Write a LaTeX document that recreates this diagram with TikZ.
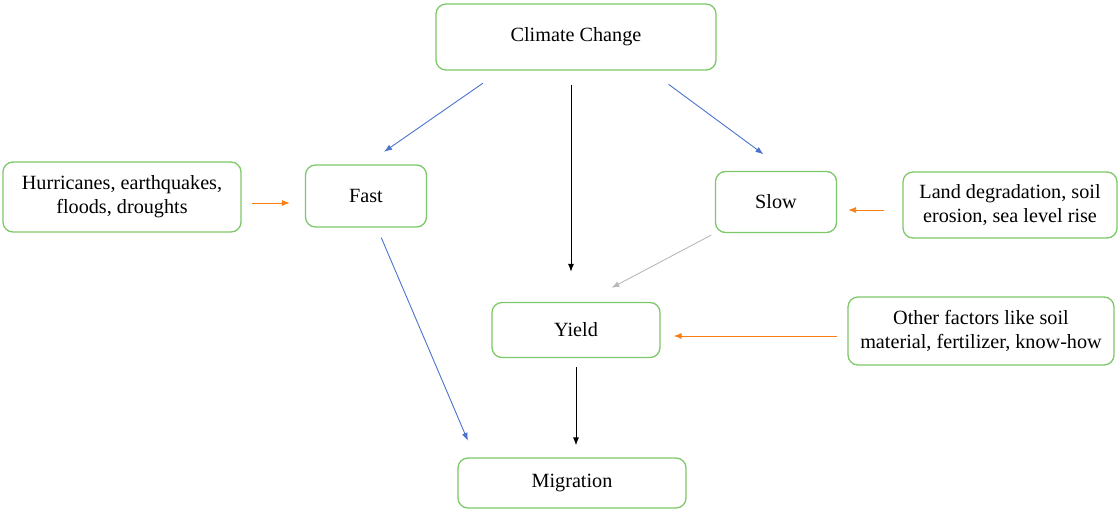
\documentclass[tikz,border=0pt]{standalone}
\usepackage{fontspec}
\setmainfont{Liberation Serif}
\usetikzlibrary{arrows.meta}

\definecolor{boxgreen}{RGB}{125,200,105}
\definecolor{arrowblue}{RGB}{75,115,205}
\definecolor{arroworange}{RGB}{250,125,20}
\definecolor{arrowgray}{RGB}{185,185,185}

\tikzset{
  box/.style={draw=boxgreen, line width=1.3pt, rounded corners=10pt, align=center, inner sep=0pt,
              font=\fontsize{20.2}{24}\selectfont},
  link/.style={-{Latex[length=8pt,width=6pt]}, line width=0.9pt},
}

\begin{document}
\begin{tikzpicture}[x=1pt, y=-1pt]
    \useasboundingbox (0,0) rectangle (1119,509);

    % boxes
    \node[box, minimum width=280pt, minimum height=66pt] (cc) at (576,37) {Climate Change};
    \node[box, minimum width=238pt, minimum height=70pt] (hur) at (122,197) {Hurricanes, earthquakes,\\floods, droughts};
    \node[box, minimum width=121pt, minimum height=62pt] (fast) at (366,196) {Fast};
    \node[box, minimum width=121pt, minimum height=61pt] (slow) at (776,202) {Slow};
    \node[box, minimum width=214pt, minimum height=66pt] (land) at (1010,205) {Land degradation, soil\\erosion, sea level rise};
    \node[box, minimum width=168pt, minimum height=55pt] (yield) at (576,330) {Yield};
    \node[box, minimum width=266pt, minimum height=68pt] (other) at (981,331) {Other factors like soil\\material, fertilizer, know-how};
    \node[box, minimum width=228pt, minimum height=50pt] (mig) at (572,483) {Migration};

    % arrows
    \draw[link, arrowblue, shorten <=22pt, shorten >=22pt] ([xshift=-75pt]cc.south) -- (fast.north);
    \draw[link, arrowblue, shorten <=23pt, shorten >=28pt] ([xshift=74pt]cc.south) -- ([xshift=10pt]slow.north);
    \draw[link, black, shorten <=14pt, shorten >=30pt] ([xshift=-5pt]cc.south) -- ([xshift=-5pt]yield.north);
    \draw[link, arroworange, shorten <=10pt, shorten >=15pt] ([yshift=-6pt]hur.east) -- ([yshift=-6pt]hur.east -| fast.west);
    \draw[link, arroworange, shorten <=18pt, shorten >=11pt] ([yshift=-5pt]land.west) -- ([yshift=-5pt]land.west -| slow.east);
    \draw[link, arrowgray, shorten <=4pt, shorten >=30pt] (slow.south west) -- ([xshift=9pt]yield.north);
    \draw[link, arroworange, shorten <=10pt, shorten >=13pt] ([yshift=-5pt]other.west) -- ([yshift=-5pt]other.west -| yield.east);
    \draw[link, arrowblue, shorten <=11pt, shorten >=18pt] ([xshift=11pt]fast.south) -- ([xshift=-97pt]mig.north);
    \draw[link, black, shorten <=9pt, shorten >=12pt] (yield.south) -- (yield.south |- mig.north);
\end{tikzpicture}
\end{document}
